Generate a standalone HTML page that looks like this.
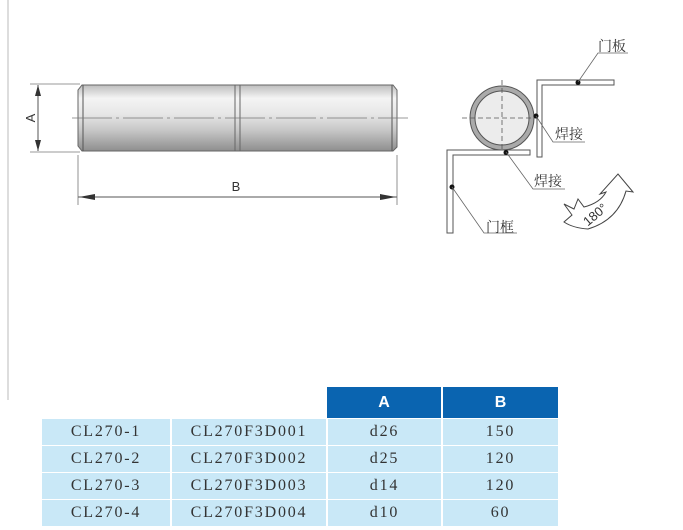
<!DOCTYPE html>
<html><head><meta charset="utf-8"><style>
body{margin:0;width:683px;height:530px;background:#fff;overflow:hidden;position:relative;font-family:"Liberation Serif","Noto Serif CJK SC",serif}
.c{position:absolute;box-sizing:border-box;text-align:center;font-size:16px;color:#333;background:#c9e8f7;line-height:26px;letter-spacing:1.8px}
.h{position:absolute;background:#0a64b0;color:#fff;font:bold 16px "Liberation Sans",sans-serif;text-align:center;line-height:31px}
</style></head><body>
<svg width="683" height="530" style="position:absolute;left:0;top:0">
<defs><linearGradient id="g" x1="0" y1="0" x2="0" y2="1">
<stop offset="0" stop-color="#bdbdbd"/><stop offset="0.2" stop-color="#f4f4f4"/><stop offset="0.45" stop-color="#e6e6e6"/><stop offset="0.7" stop-color="#c4c4c4"/><stop offset="1" stop-color="#8e8e8e"/></linearGradient></defs>
<line x1="8" y1="0" x2="8" y2="400" stroke="#bbb"/>
<path d="M82,85 H393 L397,90 V147 L393,151 H82 L78,146 V90 Z" fill="url(#g)" stroke="#666"/>
<line x1="83" y1="85" x2="83" y2="151" stroke="#555"/><line x1="392" y1="85" x2="392" y2="151" stroke="#555"/>
<line x1="235" y1="85" x2="235" y2="151" stroke="#666"/><line x1="240" y1="85" x2="240" y2="151" stroke="#666"/>
<line x1="72" y1="118" x2="408" y2="118" stroke="#777" stroke-width="0.8" stroke-dasharray="40,4,3,4"/>
<line x1="30" y1="84" x2="80" y2="84" stroke="#777" stroke-width="0.8"/>
<line x1="30" y1="152" x2="80" y2="152" stroke="#777" stroke-width="0.8"/>
<line x1="38" y1="85" x2="38" y2="151" stroke="#555"/>
<path d="M38,85 L35,96 L41,96Z M38,151 L35,140 L41,140Z" fill="#333"/>
<text x="35" y="118" font-family="Liberation Sans" font-size="13" fill="#333" transform="rotate(-90 35 118)" text-anchor="middle">A</text>
<line x1="78" y1="155" x2="78" y2="205" stroke="#777" stroke-width="0.8"/>
<line x1="397" y1="155" x2="397" y2="205" stroke="#777" stroke-width="0.8"/>
<line x1="78" y1="197" x2="397" y2="197" stroke="#555"/>
<path d="M79,197 L95,194 L95,200Z M396,197 L380,194 L380,200Z" fill="#333"/>
<text x="236" y="191" font-family="Liberation Sans" font-size="13" fill="#333" text-anchor="middle">B</text>
<circle cx="502" cy="118" r="32" fill="#aaa" stroke="#555"/>
<circle cx="502" cy="118" r="27" fill="#ececec" stroke="#555"/>
<line x1="462" y1="118" x2="542" y2="118" stroke="#555" stroke-dasharray="5,3" stroke-width="0.8"/>
<line x1="502" y1="80" x2="502" y2="155" stroke="#555" stroke-dasharray="5,3" stroke-width="0.8"/>
<path d="M537,157 V80 H614 V85 H542 V157 Z" fill="#fff" stroke="#555"/>
<path d="M447,233 V150 H530 V155 H453 V233 Z" fill="#fff" stroke="#555"/>
<circle cx="578" cy="82.5" r="2.5" fill="#111"/>
<circle cx="536" cy="116" r="2.5" fill="#111"/>
<circle cx="506" cy="152.5" r="2.5" fill="#111"/>
<circle cx="452" cy="187" r="2.5" fill="#111"/>
<path d="M578,82 L598,53 H628 M536,116 L553,142 H585 M506,152 L533,189 H565 M452,187 L484,233 H517" fill="none" stroke="#666" stroke-width="0.8"/>
<text x="598" y="51" font-size="14" fill="#333">门板</text>
<text x="555" y="139" font-size="14" fill="#333">焊接</text>
<text x="534" y="186" font-size="14" fill="#333">焊接</text>
<text x="486" y="232" font-size="14" fill="#333">门框</text>
<path d="M564,204 L574,209 L578,199 L584,207 Q600,203 606,192 L600,194 L618,174 L633,192 L626,191 Q618,220 588,229 Q573,228 564,222 L572,215 Z" fill="#fff" stroke="#444"/>
<text x="598" y="218" font-family="Liberation Sans" font-size="13" fill="#333" transform="rotate(-40 598 218)" text-anchor="middle">180°</text>
</svg>
<div class="h" style="left:327px;top:387px;width:114px;height:31px">A</div>
<div class="h" style="left:443px;top:387px;width:115px;height:31px">B</div>
<div class="c" style="left:42px;top:419px;width:128px;height:26px">CL270-1</div><div class="c" style="left:172px;top:419px;width:154px;height:26px">CL270F3D001</div><div class="c" style="left:328px;top:419px;width:113px;height:26px">d26</div><div class="c" style="left:443px;top:419px;width:115px;height:26px">150</div>
<div class="c" style="left:42px;top:446px;width:128px;height:26px">CL270-2</div><div class="c" style="left:172px;top:446px;width:154px;height:26px">CL270F3D002</div><div class="c" style="left:328px;top:446px;width:113px;height:26px">d25</div><div class="c" style="left:443px;top:446px;width:115px;height:26px">120</div>
<div class="c" style="left:42px;top:473px;width:128px;height:26px">CL270-3</div><div class="c" style="left:172px;top:473px;width:154px;height:26px">CL270F3D003</div><div class="c" style="left:328px;top:473px;width:113px;height:26px">d14</div><div class="c" style="left:443px;top:473px;width:115px;height:26px">120</div>
<div class="c" style="left:42px;top:500px;width:128px;height:26px">CL270-4</div><div class="c" style="left:172px;top:500px;width:154px;height:26px">CL270F3D004</div><div class="c" style="left:328px;top:500px;width:113px;height:26px">d10</div><div class="c" style="left:443px;top:500px;width:115px;height:26px">60</div>
</body></html>
